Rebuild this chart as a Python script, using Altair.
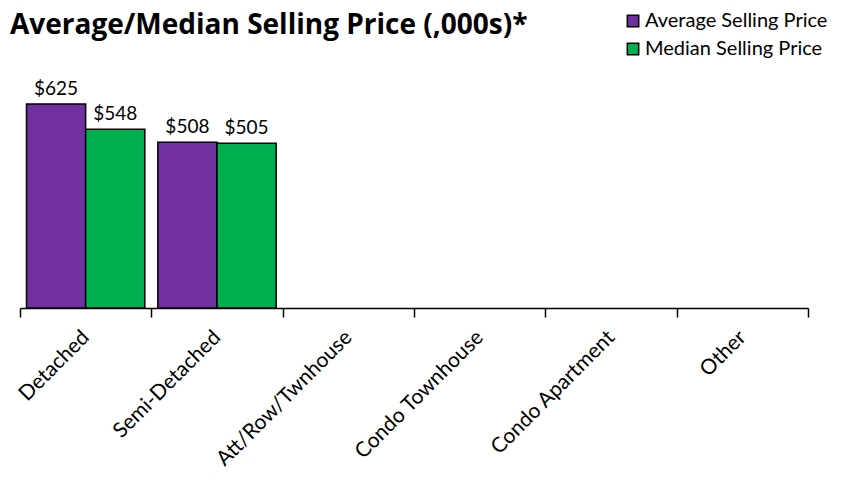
import altair as alt
import pandas as pd

categories = ["Detached", "Semi-Detached", "Att/Row/Twnhouse", "Condo Townhouse", "Condo Apartment", "Other"]
series = ["Average Selling Price", "Median Selling Price"]
bar_categories = ["Detached", "Detached", "Semi-Detached", "Semi-Detached"]
bar_series = ["Average Selling Price", "Median Selling Price", "Average Selling Price", "Median Selling Price"]
bar_values = [625, 548, 508, 505]
colors = ["#7030A0", "#00B050"]
title_text = ["Average/Median Selling Price (,000s)*"]

df = pd.DataFrame({"Type": bar_categories, "Series": bar_series, "Value": bar_values})
tdf = pd.DataFrame({"t": title_text})

FONT = "Lato"

x = alt.X("Type:N", sort=categories,
          scale=alt.Scale(domain=categories, paddingInner=0, paddingOuter=0),
          axis=alt.Axis(title=None, labelAngle=-45, labelAlign="right", labelBaseline="middle",
                        labelPadding=17, labelFontSize=21, labelFont=FONT, labelColor="#000000",
                        labelLimit=400,
                        tickBand="extent", tickSize=9, tickColor="#000000", tickWidth=1.5,
                        domainColor="#000000", domainWidth=1.5, grid=False))
xo = alt.XOffset("Series:N", sort=series, scale=alt.Scale(domain=series, paddingOuter=0.11, paddingInner=0))
y = alt.Y("Value:Q", scale=alt.Scale(domain=[0, 800]), axis=None)

bars = alt.Chart(df).mark_bar(stroke="#000000", strokeWidth=1.5).encode(
    x=x, xOffset=xo, y=y,
    color=alt.Color("Series:N", sort=series,
                    scale=alt.Scale(domain=series, range=colors),
                    legend=alt.Legend(title=None, orient="none", legendX=603, legendY=-36,
                                      symbolType="square", symbolSize=130, symbolStrokeColor="#000000",
                                      symbolStrokeWidth=1.5, symbolOpacity=1,
                                      labelFont=FONT, labelFontSize=20, labelColor="#000000",
                                      rowPadding=8, labelOffset=2, labelLimit=300)),
)

labels = alt.Chart(df).mark_text(dy=-15, fontSize=19, font=FONT, color="#000000").encode(
    x=x, xOffset=xo, y=y,
    text=alt.Text("Value:Q", format="$d"),
)

title = alt.Chart(tdf).mark_text(align="left", baseline="middle", fontSize=28, font="Open Sans",
                                 fontWeight="bold", color="#000000").encode(
    x=alt.value(-10), y=alt.value(-21), text="t:N")

chart = alt.layer(bars, labels, title).properties(
    width=788, height=261,
    autosize=alt.AutoSizeParams(type="none"),
    padding={"left": 12, "top": 39, "right": 30, "bottom": 165},
).configure_view(stroke=None)

chart.save("out.html", embed_options={"renderer": "svg", "actions": False})
